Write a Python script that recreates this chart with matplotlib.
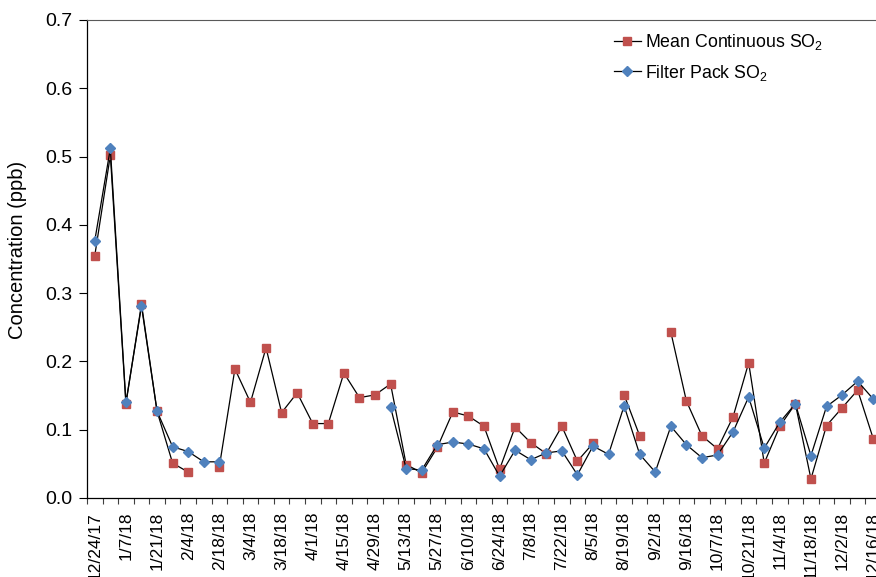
import numpy as np
import matplotlib
matplotlib.use("Agg")
import matplotlib.pyplot as plt
from matplotlib.ticker import FixedLocator, NullFormatter, FormatStrFormatter

plt.rcParams['font.family'] = ['Liberation Sans', 'DejaVu Sans']
plt.rcParams['mathtext.default'] = 'regular'

# Weekly sample dates (one week skipped in late September)
dates = [
    "12/24/17", "12/31/17", "1/7/18", "1/14/18", "1/21/18", "1/28/18", "2/4/18",
    "2/11/18", "2/18/18", "2/25/18", "3/4/18", "3/11/18", "3/18/18", "3/25/18",
    "4/1/18", "4/8/18", "4/15/18", "4/22/18", "4/29/18", "5/6/18", "5/13/18",
    "5/20/18", "5/27/18", "6/3/18", "6/10/18", "6/17/18", "6/24/18", "7/1/18",
    "7/8/18", "7/15/18", "7/22/18", "7/29/18", "8/5/18", "8/12/18", "8/19/18",
    "8/26/18", "9/2/18", "9/9/18", "9/16/18", "9/30/18", "10/7/18", "10/14/18",
    "10/21/18", "10/28/18", "11/4/18", "11/11/18", "11/18/18", "11/25/18",
    "12/2/18", "12/9/18", "12/16/18",
]

nan = np.nan
mean_continuous_so2 = [
    0.355, 0.502, 0.138, 0.284, 0.127, 0.051, 0.038,
    nan, 0.046, 0.189, 0.140, 0.220, 0.125, 0.154,
    0.109, 0.109, 0.183, 0.147, 0.151, 0.167, 0.049,
    0.037, 0.074, 0.126, 0.120, 0.105, 0.042, 0.104,
    0.081, 0.065, 0.105, 0.054, 0.080, nan, 0.151,
    0.091, nan, 0.243, 0.142, 0.091, 0.072, 0.119,
    0.198, 0.051, 0.105, 0.138, 0.028, 0.106,
    0.132, 0.158, 0.087,
]

filter_pack_so2 = [
    0.377, 0.512, 0.140, 0.281, 0.127, 0.075, 0.068,
    0.053, 0.053, nan, nan, nan, nan, nan,
    nan, nan, nan, nan, nan, 0.133, 0.043,
    0.041, 0.078, 0.082, 0.079, 0.072, 0.032, 0.070,
    0.056, 0.066, 0.069, 0.034, 0.076, 0.064, 0.135,
    0.064, 0.038, 0.105, 0.078, 0.059, 0.063, 0.097,
    0.148, 0.073, 0.111, 0.138, 0.062, 0.134,
    0.151, 0.171, 0.145,
]

y_ticks = [0.0, 0.1, 0.2, 0.3, 0.4, 0.5, 0.6, 0.7]

W, H = 876, 577
fig = plt.figure(figsize=(W / 100, H / 100), dpi=100)
ax = fig.add_axes([87 / W, 79 / H, (881 - 87) / W, 478 / H])

x = np.arange(len(dates))
ax.plot(x, mean_continuous_so2, color='black', lw=0.9, marker='s', ms=6.0,
        mfc='#C0504D', mec='#C0504D', label='Mean Continuous SO$_2$', zorder=3)
ax.plot(x, filter_pack_so2, color='black', lw=0.9, marker='D', ms=4.6,
        mfc='#4F81BD', mec='#4F81BD', label='Filter Pack SO$_2$', zorder=4)

ax.set_xlim(-0.5, len(dates) - 0.5)
ax.set_ylim(0, 0.7)

# category boundaries get tick marks, every other category gets a label
ax.xaxis.set_major_locator(FixedLocator(np.arange(-0.5, len(dates), 1.0)))
ax.xaxis.set_major_formatter(NullFormatter())
ax.xaxis.set_minor_locator(FixedLocator(x[::2]))
ax.set_xticklabels(dates[::2], minor=True, rotation=90, fontsize=12.5)
ax.tick_params(axis='x', which='major', direction='out', length=4.5, width=0.8, color='#404040')
ax.tick_params(axis='x', which='minor', length=0, pad=10)

ax.set_yticks(y_ticks)
ax.yaxis.set_major_formatter(FormatStrFormatter('%.1f'))
ax.tick_params(axis='y', direction='out', length=5.5, width=0.8, labelsize=14, pad=5)

ax.set_ylabel('Concentration (ppb)', fontsize=14.5, va='center')
ax.yaxis.set_label_coords((18 - 87) / (881 - 87), 0.52)

for side in ('left', 'bottom'):
    ax.spines[side].set_color('black')
    ax.spines[side].set_linewidth(0.9)
ax.spines['top'].set_color('#595959')
ax.spines['top'].set_linewidth(0.8)
ax.spines['right'].set_visible(False)

leg = ax.legend(loc='upper left', frameon=False, fontsize=12.8,
                handlelength=1.5, handletextpad=0.25, labelspacing=0.6,
                borderaxespad=0, borderpad=0)
leg.set_bbox_to_anchor((614 / W, 1 - 32 / H), transform=fig.transFigure)

fig.savefig('out.png', dpi=100)
